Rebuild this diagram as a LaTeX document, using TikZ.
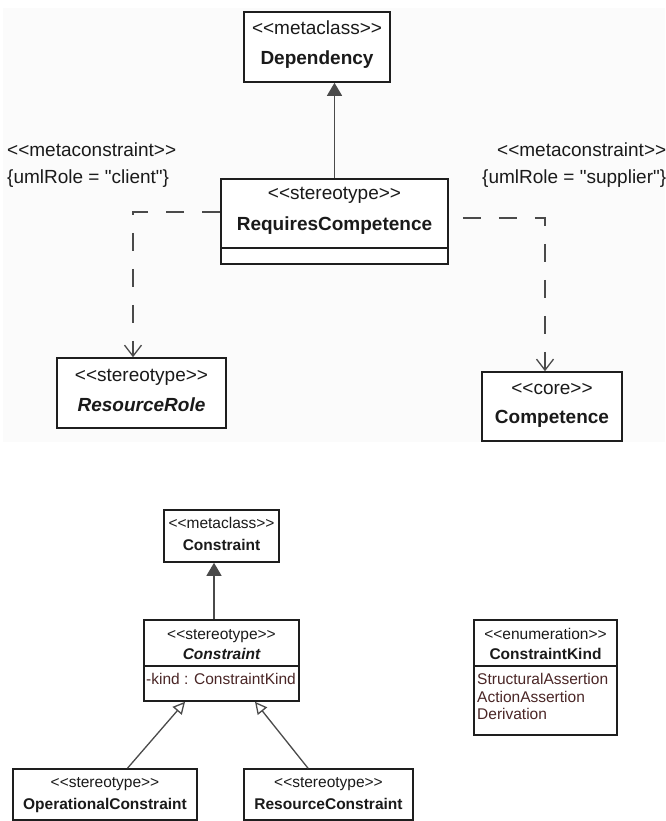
\documentclass[tikz,border=0pt]{standalone}
\usepackage{fontspec}
\newfontfamily\umlf{Liberation Sans}
\usetikzlibrary{arrows.meta}
\definecolor{ln}{HTML}{1E1E1E}
\definecolor{cn}{HTML}{4A4A4A}
\definecolor{attr}{HTML}{4A2626}
\definecolor{txt}{HTML}{1A1A1A}
\definecolor{bgc}{HTML}{FBFBFB}
\begin{document}
\begin{tikzpicture}[x=1pt,y=-1pt,
  box/.style={draw=ln, line width=1.6pt, fill=white, inner sep=0pt},
  divline/.style={draw=ln, line width=1.4pt},
  big/.style={font=\umlf\fontsize{19}{22}\selectfont, anchor=base, inner sep=0pt, text=txt},
  small/.style={font=\umlf\fontsize{15.5}{18}\selectfont, anchor=base, inner sep=0pt, text=txt},
  solidc/.style={draw=cn, line width=1.3pt},
  dashc/.style={draw=cn, line width=1.3pt, dash pattern=on 18pt off 18pt},
  filledtip/.style={-{Triangle[length=13pt,width=15pt]}, fill=cn},
  opentip/.style={-{Straight Barb[length=11pt,width=17pt]}},
  gentip/.style={-{Triangle[open,length=12pt,width=12pt,fill=white]}}
]
\useasboundingbox (0,0) rectangle (665,821);
\fill[bgc] (3,8) rectangle (665,442);

% ---- boxes ----
\node[box, minimum width=146pt, minimum height=70pt] (dep) at (317,47) {};
\node[box, minimum width=227pt, minimum height=85pt] (rc) at (334.5,221.5) {};
\node[box, minimum width=169pt, minimum height=70pt] (rr) at (141.5,393) {};
\node[box, minimum width=140pt, minimum height=69pt] (comp) at (552,406.5) {};
\node[box, minimum width=115pt, minimum height=52pt] (cmeta) at (221.5,536) {};
\node[box, minimum width=155pt, minimum height=81pt] (cst) at (221.5,660.5) {};
\node[box, minimum width=143pt, minimum height=115pt] (ck) at (545.5,677.5) {};
\node[box, minimum width=184pt, minimum height=51pt] (oc) at (105,794.5) {};
\node[box, minimum width=169pt, minimum height=51pt] (resc) at (328.5,794.5) {};

\coordinate (d1) at (0,248);
\coordinate (d2) at (0,666);
\draw[divline] (rc.west |- d1) -- (rc.east |- d1);
\draw[divline] (cst.west |- d2) -- (cst.east |- d2);
\draw[divline] (ck.west |- d2) -- (ck.east |- d2);

% ---- texts ----
\node[big] (t1) at (317,35) {<<metaclass>>};
\node[big] (t2) at (317,65) {\bfseries Dependency};
\node[big] (t3) at (334.5,200) {<<stereotype>>};
\node[big] (t4) at (334.5,230) {\bfseries RequiresCompetence};
\node[big] (t5) at (141.5,381) {<<stereotype>>};
\node[big] (t6) at (141.5,411) {\bfseries\itshape ResourceRole};
\node[big] (t7) at (552,394) {<<core>>};
\node[big] (t8) at (552,423) {\bfseries Competence};
\node[big, anchor=base west] (l1) at (7,157) {<<metaconstraint>>};
\node[big, anchor=base west] (l2) at (7,183) {\{umlRole = "client"\}};
\node[big, anchor=base west] (l3) at (497,157) {<<metaconstraint>>};
\node[big, anchor=base west] (l4) at (482,183) {\{umlRole = "supplier"\}};

\node[small] (s1) at (221.5,528) {<<metaclass>>};
\node[small] (s2) at (221.5,550) {\bfseries Constraint};
\node[small] (s3) at (221.5,639) {<<stereotype>>};
\node[small] (s4) at (221.5,659) {\bfseries\itshape Constraint};
\node[small, anchor=base west, text=attr] (s5) at (146,684) {-kind : ConstraintKind};
\node[small] (s6) at (545.5,639) {<<enumeration>>};
\node[small] (s7) at (545.5,659) {\bfseries ConstraintKind};
\node[small, anchor=base west, text=attr] (s8) at (477,684) {StructuralAssertion};
\node[small, anchor=base west, text=attr] (s9) at (477,702) {ActionAssertion};
\node[small, anchor=base west, text=attr] (s10) at (477,719) {Derivation};
\node[small] (s11) at (105,787) {<<stereotype>>};
\node[small] (s12) at (105,809) {\bfseries OperationalConstraint};
\node[small] (s13) at (328.5,787) {<<stereotype>>};
\node[small] (s14) at (328.5,809) {\bfseries ResourceConstraint};

% ---- connectors ----
\draw[solidc, filledtip] (rc.north) -- (rc.north |- dep.south);
\draw[dashc, opentip] ([yshift=9.5pt]rc.west) -| ([xshift=-8.5pt]rr.north);
\draw[dashc, opentip, dash phase=22pt] ([yshift=3.5pt]rc.east) -| ([xshift=-7pt]comp.north);
\draw[solidc, filledtip] ([xshift=-7.5pt]cst.north) -- ([xshift=-7.5pt]cmeta.south);
\draw[solidc, gentip] ([xshift=22.5pt]oc.north) -- ([xshift=-36.5pt]cst.south);
\draw[solidc, gentip] ([xshift=-20.5pt]resc.north) -- ([xshift=33.5pt]cst.south);
\end{tikzpicture}
\end{document}
